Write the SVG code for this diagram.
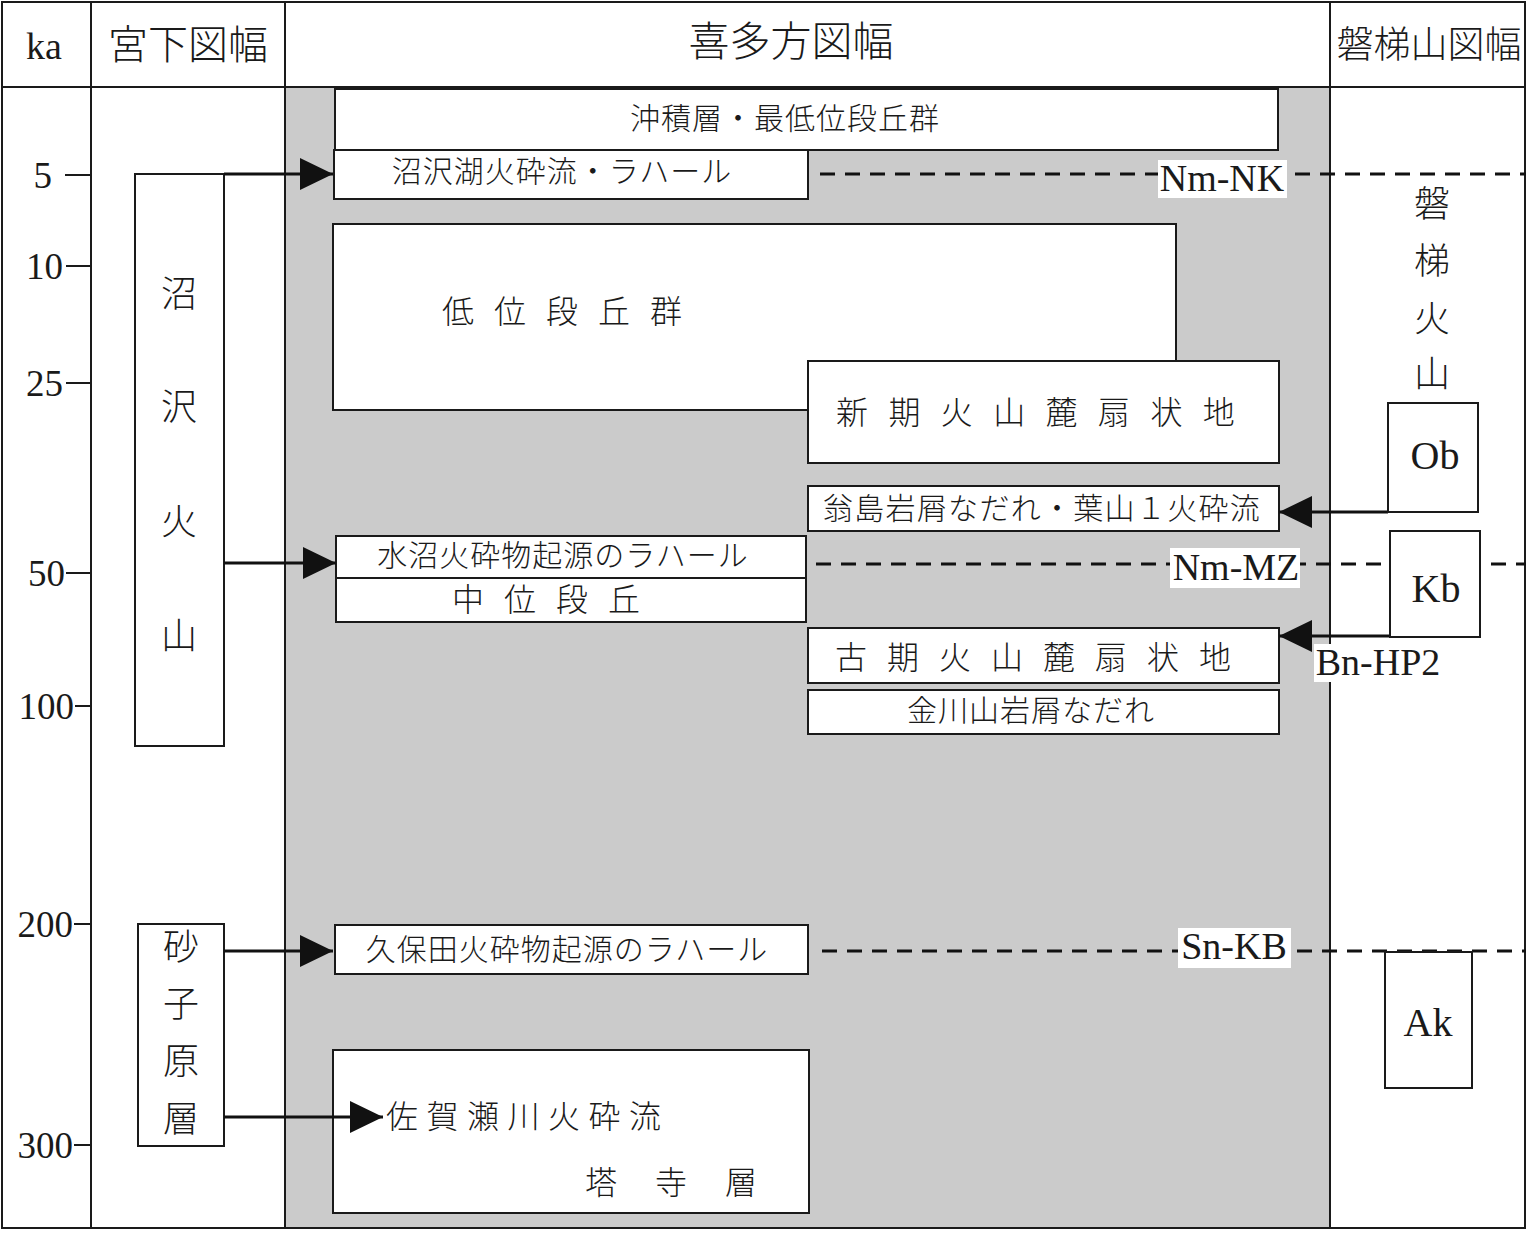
<svg xmlns="http://www.w3.org/2000/svg" width="1531" height="1233" viewBox="0 0 1531 1233">
<style>
.ln{stroke:#1a1a1a;stroke-width:2;fill:none}
.bx{fill:#fff;stroke:#1a1a1a;stroke-width:2}
.jp{font-family:"Liberation Serif","Noto Sans CJK JP",serif;font-weight:300;fill:#1a1a1a;dominant-baseline:central}
.lt{font-family:"Liberation Serif","Noto Sans CJK JP",serif;fill:#1a1a1a;dominant-baseline:central}
.ar{stroke:#111;stroke-width:3;fill:none}
.ds{stroke:#111;stroke-width:3;stroke-dasharray:15 10;fill:none}
.lb{fill:#fff}
</style>
<defs>
<marker id="ah" markerUnits="userSpaceOnUse" markerWidth="34" markerHeight="34" refX="33" refY="16" orient="auto">
<path d="M0,0 L33,16 L0,32 z" fill="#111"/>
</marker>
</defs>
<rect x="0" y="0" width="1531" height="1233" fill="#fff"/>
<g id="frame">
<rect x="286" y="88" width="1044" height="1140" fill="#cbcbcb"/>
<rect class="ln" x="2" y="2" width="1523" height="1226"/>
<line class="ln" x1="2" y1="87" x2="1525" y2="87"/>
<line class="ln" x1="91" y1="2" x2="91" y2="1228"/>
<line class="ln" x1="285" y1="2" x2="285" y2="1228"/>
<line class="ln" x1="1330" y1="2" x2="1330" y2="1228"/>
</g>
<g id="header">
<text class="lt" x="44" y="46" font-size="38" text-anchor="middle">ka</text>
<text class="jp" x="188" y="45" font-size="40" text-anchor="middle">宮下図幅</text>
<text class="jp" x="791" y="42" font-size="41" text-anchor="middle">喜多方図幅</text>
<text class="jp" x="1429" y="45" font-size="37" text-anchor="middle">磐梯山図幅</text>
</g>
<g id="scale">
<text class="lt" x="52" y="175" font-size="37" text-anchor="end">5</text>
<line class="ln" x1="65" y1="175" x2="91" y2="175"/>
<text class="lt" x="63" y="266" font-size="37" text-anchor="end">10</text>
<line class="ln" x1="66" y1="266" x2="91" y2="266"/>
<text class="lt" x="63" y="383" font-size="37" text-anchor="end">25</text>
<line class="ln" x1="66" y1="383" x2="91" y2="383"/>
<text class="lt" x="65" y="573" font-size="37" text-anchor="end">50</text>
<line class="ln" x1="66" y1="573" x2="91" y2="573"/>
<text class="lt" x="74" y="706" font-size="37" text-anchor="end">100</text>
<line class="ln" x1="75" y1="706" x2="91" y2="706"/>
<text class="lt" x="73" y="924" font-size="37" text-anchor="end">200</text>
<line class="ln" x1="74" y1="924" x2="91" y2="924"/>
<text class="lt" x="73" y="1145" font-size="37" text-anchor="end">300</text>
<line class="ln" x1="74" y1="1145" x2="91" y2="1145"/>
</g>
<g id="numazawa-volcano">
<rect class="bx" x="135" y="174" width="89" height="572"/>
<text class="jp" x="179" y="295" font-size="36" text-anchor="middle">沼</text>
<text class="jp" x="179" y="408" font-size="36" text-anchor="middle">沢</text>
<text class="jp" x="179" y="523" font-size="36" text-anchor="middle">火</text>
<text class="jp" x="179" y="637" font-size="36" text-anchor="middle">山</text>
</g>
<g id="sunagohara">
<rect class="bx" x="138" y="924" width="86" height="222"/>
<text class="jp" x="181" y="948" font-size="36" text-anchor="middle">砂</text>
<text class="jp" x="181" y="1005" font-size="36" text-anchor="middle">子</text>
<text class="jp" x="181" y="1062" font-size="36" text-anchor="middle">原</text>
<text class="jp" x="181" y="1120" font-size="36" text-anchor="middle">層</text>
</g>
<g id="alluvium">
<rect class="bx" x="335" y="89" width="943" height="61"/>
<text class="jp" x="785" y="118" font-size="30" letter-spacing="1" text-anchor="middle">沖積層・最低位段丘群</text>
</g>
<g id="numazawako-pf">
<rect class="bx" x="334" y="150" width="474" height="49"/>
<text class="jp" x="562" y="171" font-size="30" letter-spacing="1" text-anchor="middle">沼沢湖火砕流・ラハール</text>
</g>
<g id="low-terrace">
<rect class="bx" x="333" y="224" width="843" height="186"/>
<text class="jp" x="442" y="312" font-size="32" letter-spacing="20">低位段丘群</text>
</g>
<g id="new-fan">
<rect class="bx" x="808" y="361" width="471" height="102"/>
<text class="jp" x="836" y="413" font-size="32" letter-spacing="20.4">新期火山麓扇状地</text>
</g>
<g id="okinajima">
<rect class="bx" x="808" y="486" width="471" height="45"/>
<text class="jp" x="1042" y="508" font-size="30" letter-spacing="1.3" text-anchor="middle">翁島岩屑なだれ・葉山１火砕流</text>
</g>
<g id="mizunuma-lahar">
<rect class="bx" x="336" y="536" width="470" height="42"/>
<text class="jp" x="563" y="555" font-size="30" letter-spacing="1" text-anchor="middle">水沼火砕物起源のラハール</text>
</g>
<g id="middle-terrace">
<rect class="bx" x="336" y="578" width="470" height="44"/>
<text class="jp" x="452" y="600" font-size="32" letter-spacing="20">中位段丘</text>
</g>
<g id="old-fan">
<rect class="bx" x="808" y="628" width="471" height="55"/>
<text class="jp" x="835" y="658" font-size="32" letter-spacing="20">古期火山麓扇状地</text>
</g>
<g id="kanekawayama">
<rect class="bx" x="808" y="690" width="471" height="44"/>
<text class="jp" x="1031" y="710" font-size="30" letter-spacing="1" text-anchor="middle">金川山岩屑なだれ</text>
</g>
<g id="kubota-lahar">
<rect class="bx" x="335" y="925" width="473" height="49"/>
<text class="jp" x="567" y="949" font-size="30" letter-spacing="1" text-anchor="middle">久保田火砕物起源のラハール</text>
</g>
<g id="tooji">
<rect class="bx" x="333" y="1050" width="476" height="163"/>
<text class="jp" x="386" y="1117" font-size="32" letter-spacing="8.5">佐賀瀬川火砕流</text>
<text class="jp" x="585" y="1183" font-size="32" letter-spacing="38">塔寺層</text>
</g>
<g id="bandai-volcano">
<text class="jp" x="1432" y="205" font-size="36" text-anchor="middle">磐</text>
<text class="jp" x="1432" y="262" font-size="36" text-anchor="middle">梯</text>
<text class="jp" x="1432" y="320" font-size="36" text-anchor="middle">火</text>
<text class="jp" x="1432" y="375" font-size="36" text-anchor="middle">山</text>
</g>
<g id="connectors">
<line class="ds" x1="820" y1="174" x2="1526" y2="174"/>
<line class="ds" x1="816" y1="564" x2="1526" y2="564"/>
<line class="ds" x1="822" y1="951" x2="1526" y2="951"/>
<line class="ar" x1="224" y1="174" x2="333" y2="174" marker-end="url(#ah)"/>
<line class="ar" x1="224" y1="563" x2="336" y2="563" marker-end="url(#ah)"/>
<line class="ar" x1="224" y1="951" x2="333" y2="951" marker-end="url(#ah)"/>
<line class="ar" x1="224" y1="1117" x2="383" y2="1117" marker-end="url(#ah)"/>
<line class="ar" x1="1388" y1="512" x2="1279" y2="512" marker-end="url(#ah)"/>
<line class="ar" x1="1390" y1="636" x2="1279" y2="636" marker-end="url(#ah)"/>
</g>
<g id="tephra-labels">
<rect class="lb" x="1158" y="160" width="129" height="38"/>
<text class="lt" x="1222" y="178" font-size="38" text-anchor="middle">Nm-NK</text>
<rect class="lb" x="1170" y="548" width="130" height="40"/>
<text class="lt" x="1236" y="567" font-size="38" text-anchor="middle">Nm-MZ</text>
<rect class="lb" x="1178" y="928" width="113" height="40"/>
<text class="lt" x="1234" y="946" font-size="38" text-anchor="middle">Sn-KB</text>
<rect class="lb" x="1314" y="644" width="130" height="38"/>
<text class="lt" x="1378" y="662" font-size="38" text-anchor="middle">Bn-HP2</text>
</g>
<g id="ob">
<rect class="bx" x="1388" y="403" width="90" height="109"/>
<text class="lt" x="1435" y="455" font-size="40" text-anchor="middle">Ob</text>
</g>
<g id="kb">
<rect class="bx" x="1390" y="531" width="90" height="106"/>
<text class="lt" x="1436" y="588" font-size="40" text-anchor="middle">Kb</text>
</g>
<g id="ak">
<rect class="bx" x="1385" y="952" width="87" height="136"/>
<text class="lt" x="1428" y="1022" font-size="40" text-anchor="middle">Ak</text>
</g>
</svg>
